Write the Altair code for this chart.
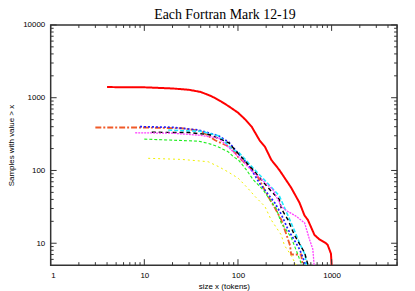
import altair as alt
import pandas as pd

# ---- data (x = size in tokens, y = samples with value > x)
red_x = [4, 10, 20, 30, 40, 52, 65, 80, 100, 120, 140, 170, 194, 227, 276, 370, 454, 514, 557, 656, 740, 871, 907, 984, 1000]
red_y = [1400, 1390, 1340, 1285, 1200, 1050, 900, 760, 624, 500, 400, 260, 212, 140, 102, 58, 36, 24, 21, 13, 11.3, 10, 9.5, 7.2, 5]

ored_x = [3, 10, 25, 40, 57, 85, 101, 130, 160, 210, 250, 290, 330, 360, 370, 473, 490]
ored_y = [390, 390, 380, 350, 260, 205, 152, 115, 85, 44, 30, 21, 13, 9.3, 7, 7, 5]

blue_x = [9, 20, 38, 62, 80, 101, 129, 171, 200, 247, 290, 342, 400, 454, 530]
blue_y = [400, 392, 360, 300, 245, 170, 120, 66, 51, 36, 25, 15.5, 11, 8.3, 5]

cyan_x = [18, 40, 62, 89, 101, 145, 200, 276, 342, 400, 455, 520, 540]
cyan_y = [360, 345, 300, 190, 180, 108, 70, 45, 24, 15, 10, 7, 5]

black_x = [12, 30, 50, 80, 101, 145, 226, 276, 290, 342, 400, 515, 560]
black_y = [335, 332, 310, 240, 170, 102, 52, 40, 30, 21, 13, 7.4, 5]

mag_x = [8, 20, 38, 62, 101, 145, 200, 237, 290, 330, 418, 515, 580, 630, 650]
mag_y = [330, 325, 306, 280, 155, 95, 66, 54, 32, 28, 23.5, 19, 11.3, 8.3, 5]

green_x = [10, 38, 48, 60, 79, 89, 101, 123, 145, 186, 218, 256, 290, 330, 370, 436, 480]
green_y = [270, 253, 236, 215, 180, 155, 140, 102, 75, 54, 40, 30, 19, 15, 12, 7, 5]

yellow_x = [11, 25, 48, 62, 79, 101, 129, 152, 194, 226, 290, 314, 370, 418]
yellow_y = [147, 142, 132, 113, 95, 78, 56, 44, 32, 21, 13, 9.3, 6.8, 5]

title_text = ["Each Fortran Mark 12-19"]

series = [
    ("Mark 12", red_x, red_y, "#ff0000", [1, 0], 2.0),
    ("Mark 13", ored_x, ored_y, "#f05a28", [6, 2, 2, 2], 1.0),
    ("Mark 14", blue_x, blue_y, "#2020ff", [2, 2], 1.0),
    ("Mark 15", cyan_x, cyan_y, "#20e8ff", [4, 2], 1.0),
    ("Mark 16", black_x, black_y, "#000000", [4, 3], 1.0),
    ("Mark 17", mag_x, mag_y, "#ff40ff", [2, 1], 1.0),
    ("Mark 18", green_x, green_y, "#20ee20", [3, 2], 1.0),
    ("Mark 19", yellow_x, yellow_y, "#f0f000", [2, 3], 1.0),
]

rows = []
for name, xs_, ys_, *_ in series:
    for i, (xv, yv) in enumerate(zip(xs_, ys_)):
        rows.append({"series": name, "x": xv, "y": yv, "order": i})
df = pd.DataFrame(rows)

names = [s[0] for s in series]
colors = [s[3] for s in series]
dashes = [s[4] for s in series]
widths = [s[5] for s in series]

x_major = [1, 10, 100, 1000]
x_minor = [m * 10 ** k for k in range(0, 4) for m in range(2, 10) if m * 10 ** k <= 5000]
y_major = [10, 100, 1000, 10000]
y_minor = [6, 7, 8, 9] + [m * 10 ** k for k in range(1, 4) for m in range(2, 10)]

W, H = 349, 242
XDOM = [1, 5000]
YDOM = [5, 10000]

xs = alt.Scale(type="log", domain=XDOM, nice=False)
ys = alt.Scale(type="log", domain=YDOM, nice=False)

axis_common = dict(labelFont="Liberation Sans", labelFontSize=8, labelColor="#000",
                   titleFont="Liberation Sans", titleFontSize=8, titleFontWeight="normal",
                   titleColor="#000", ticks=False, domain=False, grid=False, labelPadding=6)

lines = alt.Chart(df).mark_line(clip=True).encode(
    x=alt.X("x:Q", scale=xs, axis=alt.Axis(values=x_major, format="d", title="size x (tokens)",
                                            titlePadding=4, **axis_common)),
    y=alt.Y("y:Q", scale=ys, axis=alt.Axis(values=y_major, format="d", title="Samples with value > x",
                                            titlePadding=7, **axis_common)),
    color=alt.Color("series:N", scale=alt.Scale(domain=names, range=colors), legend=None),
    strokeDash=alt.StrokeDash("series:N", scale=alt.Scale(domain=names, range=dashes), legend=None),
    strokeWidth=alt.StrokeWidth("series:N", scale=alt.Scale(domain=names, range=widths), legend=None),
    order="order:Q",
)

def xticks(vals, length):
    d = pd.DataFrame({"x": vals})
    bottom = alt.Chart(d).mark_rule(color="#333", strokeWidth=1).encode(
        x=alt.X("x:Q", scale=xs), y=alt.value(H), y2=alt.value(H - length))
    top = alt.Chart(d).mark_rule(color="#333", strokeWidth=1).encode(
        x=alt.X("x:Q", scale=xs), y=alt.value(0), y2=alt.value(length))
    return bottom + top

def yticks(vals, length):
    d = pd.DataFrame({"y": vals})
    left = alt.Chart(d).mark_rule(color="#333", strokeWidth=1).encode(
        y=alt.Y("y:Q", scale=ys), x=alt.value(0), x2=alt.value(length))
    right = alt.Chart(d).mark_rule(color="#333", strokeWidth=1).encode(
        y=alt.Y("y:Q", scale=ys), x=alt.value(W), x2=alt.value(W - length))
    return left + right

title = alt.Chart(pd.DataFrame({"t": title_text})).mark_text(
    font="Liberation Serif", fontSize=14, color="#000", align="center", baseline="alphabetic"
).encode(text="t:N", x=alt.value(W / 2 + 1), y=alt.value(-6))

chart = alt.layer(
    lines,
    xticks(x_major, 6), xticks(x_minor, 3),
    yticks(y_major, 6), yticks(y_minor, 3),
    title,
).properties(
    width=W, height=H,
    autosize=alt.AutoSizeParams(type="none"),
    padding={"left": 43, "top": 16, "right": 10, "bottom": 30},
).configure_view(stroke="#333", strokeWidth=1.5)

chart.save("out.html", embed_options={"renderer": "svg", "actions": False})
